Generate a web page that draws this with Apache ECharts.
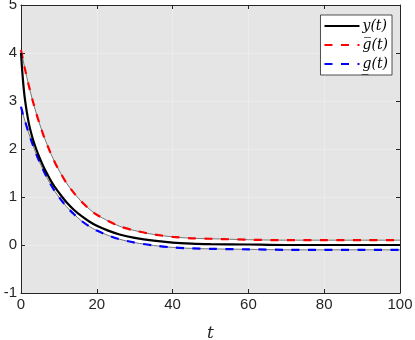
<!DOCTYPE html>
<html>
<head>
<meta charset="utf-8">
<script src="https://cdn.jsdelivr.net/npm/echarts@6/dist/echarts.min.js"></script>
<style>
  html, body { margin: 0; padding: 0; background: #ffffff; }
  #chart { width: 415px; height: 340px; }
</style>
</head>
<body>
<div id="chart"></div>
<script>
// time samples (t)
const tValues = [0, 0.5, 1, 2, 3, 4, 5, 6, 7, 8, 9, 10, 12, 14, 16, 18, 20, 23, 26, 30, 35, 40, 45, 50, 60, 70, 80, 90, 100];

// y(t), black solid
const yValues = [4.00, 3.45, 3.06, 2.56, 2.24, 2.00, 1.80, 1.62, 1.47, 1.32, 1.20, 1.09, 0.89, 0.73, 0.60, 0.49, 0.40, 0.30, 0.22, 0.15, 0.09, 0.05, 0.03, 0.02, 0.01, 0.00, 0.00, 0.00, 0.00];

// upper bound g-bar(t), red dashed
const upperValues = [4.06, 3.87, 3.68, 3.34, 3.03, 2.75, 2.50, 2.27, 2.07, 1.88, 1.71, 1.56, 1.29, 1.08, 0.90, 0.75, 0.63, 0.50, 0.39, 0.30, 0.22, 0.17, 0.14, 0.13, 0.11, 0.10, 0.10, 0.10, 0.10];

// lower bound g-underbar(t), blue dashed
const lowerValues = [2.88, 2.73, 2.60, 2.34, 2.11, 1.90, 1.71, 1.54, 1.38, 1.24, 1.11, 1.00, 0.80, 0.64, 0.50, 0.39, 0.30, 0.20, 0.12, 0.05, -0.01, -0.05, -0.07, -0.08, -0.09, -0.10, -0.10, -0.10, -0.10];

const xTicks = [0, 20, 40, 60, 80, 100];
const yTicks = [-1, 0, 1, 2, 3, 4, 5];

const seriesNames = ['y(t)', 'g\u0305(t)', 'g\u0332(t)'];

const pairs = (ys) => tValues.map((t, i) => [t, ys[i]]);

const axisColor = '#262626';
const tickFont = 'Liberation Sans, Arial, sans-serif';
const mathFont = 'DejaVu Serif, Liberation Serif, serif';

const chart = echarts.init(document.getElementById('chart'), null, { renderer: 'canvas' });

const edgeLine = { color: '#555555', width: 0.8 };

// white band between the two bounds, drawn as one polygon through the axes
function renderBand(params, api) {
  const top = tValues.map((t, i) => api.coord([t, upperValues[i]]));
  const bottom = tValues.map((t, i) => api.coord([t, lowerValues[i]])).reverse();
  return {
    type: 'polygon',
    shape: { points: top.concat(bottom) },
    style: { fill: '#ffffff', stroke: null }
  };
}

const option = {
  animation: false,
  backgroundColor: '#ffffff',
  grid: {
    left: 21, right: 15, top: 5, bottom: 47,
    outerBoundsMode: 'none',
    containLabel: false,
    show: true, backgroundColor: '#e5e5e5', borderWidth: 0
  },
  legend: {
    data: seriesNames,
    orient: 'vertical',
    right: 23,
    top: 15,
    itemWidth: 35,
    itemHeight: 12,
    itemGap: 5,
    padding: [4, 4, 4, 3],
    backgroundColor: '#ffffff',
    borderColor: '#262626',
    borderWidth: 0.8,
    borderRadius: 0,
    itemStyle: { opacity: 0 },
    textStyle: { fontFamily: mathFont, fontStyle: 'italic', fontSize: 14, color: '#000000', padding: [0, 0, 0, -2] }
  },
  xAxis: [
    {
      type: 'value', min: 0, max: 100, interval: 20,
      name: 't', nameLocation: 'middle', nameGap: 32,
      nameTextStyle: { fontFamily: mathFont, fontStyle: 'italic', fontSize: 17, color: axisColor },
      axisLine: { show: true, onZero: false, lineStyle: { color: axisColor, width: 1 } },
      axisTick: { show: true, inside: true, length: 4, lineStyle: { color: axisColor } },
      axisLabel: {
        fontFamily: tickFont, fontSize: 15, color: axisColor, margin: 4,
        formatter: (v) => (xTicks.includes(v) ? String(v) : '')
      },
      splitLine: { show: true, lineStyle: { color: '#ececec', width: 1 } }
    },
    {
      type: 'value', min: 0, max: 100, interval: 20, position: 'top',
      axisLine: { show: true, onZero: false, lineStyle: { color: axisColor, width: 1 } },
      axisTick: { show: true, inside: true, length: 4, lineStyle: { color: axisColor } },
      axisLabel: { show: false },
      splitLine: { show: false }
    }
  ],
  yAxis: [
    {
      type: 'value', min: -1, max: 5, interval: 1,
      axisLine: { show: true, onZero: false, lineStyle: { color: axisColor, width: 1 } },
      axisTick: { show: true, inside: true, length: 4, lineStyle: { color: axisColor } },
      axisLabel: {
        fontFamily: tickFont, fontSize: 15, color: axisColor, margin: 4,
        padding: [5, 0, 0, 0],
        formatter: (v) => (yTicks.includes(v) ? String(v) : '')
      },
      splitLine: { show: true, lineStyle: { color: '#ececec', width: 1 } }
    },
    {
      type: 'value', min: -1, max: 5, interval: 1, position: 'right',
      axisLine: { show: true, onZero: false, lineStyle: { color: axisColor, width: 1 } },
      axisTick: { show: true, inside: true, length: 4, lineStyle: { color: axisColor } },
      axisLabel: { show: false },
      splitLine: { show: false }
    }
  ],
  series: [
    {
      name: 'band', type: 'custom', coordinateSystem: 'cartesian2d',
      data: [[0, 0]], renderItem: renderBand, z: 1, silent: true
    },
    {
      name: 'band-low', type: 'line', data: pairs(lowerValues),
      smooth: 0.3, symbol: 'none', lineStyle: edgeLine, z: 2
    },
    {
      name: 'band-high', type: 'line', data: pairs(upperValues),
      smooth: 0.3, symbol: 'none', lineStyle: edgeLine, z: 2
    },
    {
      name: seriesNames[0], type: 'line', data: pairs(yValues),
      smooth: 0.3, symbol: 'none', z: 5,
      lineStyle: { color: '#000000', width: 2.2 },
      itemStyle: { color: '#000000' }
    },
    {
      name: seriesNames[1], type: 'line', data: pairs(upperValues),
      smooth: 0.3, symbol: 'none', z: 4,
      lineStyle: { color: '#ff0000', width: 2.2, type: [8, 8.5] },
      itemStyle: { color: '#ff0000' }
    },
    {
      name: seriesNames[2], type: 'line', data: pairs(lowerValues),
      smooth: 0.3, symbol: 'none', z: 4,
      lineStyle: { color: '#0000ff', width: 2.2, type: [8, 8.5] },
      itemStyle: { color: '#0000ff' }
    }
  ]
};

chart.setOption(option);
</script>
</body>
</html>
